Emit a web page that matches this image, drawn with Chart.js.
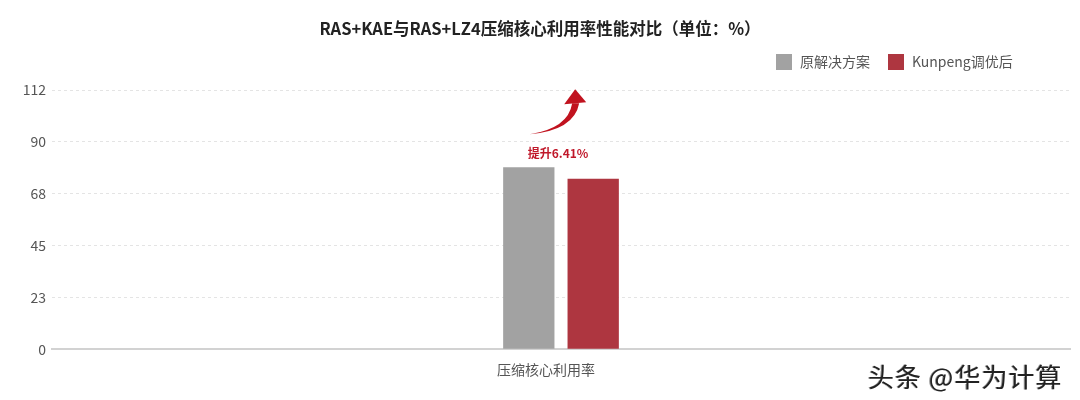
<!DOCTYPE html>
<html>
<head>
<meta charset="utf-8">
<script src="https://cdn.jsdelivr.net/npm/chart.js@4.4.0/dist/chart.umd.min.js"></script>
<style>
  body { margin: 0; background: #fff; font-family: "Noto Sans CJK SC", "Noto Sans", sans-serif; }
  #wrap { position: relative; width: 1080px; height: 400px; }
  #title { position: absolute; top: 16px; left: 0; width: 1080px; text-align: center; font-size: 16.5px; font-weight: bold; color: #222; }
  #chartLegend { position: absolute; top: 51px; left: 776px; font-size: 14px; color: #555; white-space: nowrap; }
  .legend-item { display: inline-block; margin-right: 18px; }
  .legend-item i { display: inline-block; width: 16px; height: 16px; vertical-align: -3px; margin-right: 8px; }
  #mark { position: absolute; left: 868px; top: 357px; font-size: 26px; letter-spacing: 1px; color: #222; text-shadow: 1px 1px 0 #fff, -1px 0 0 #999; }
</style>
</head>
<body>
<div id="wrap">
  <canvas id="reportsChart" width="1080" height="400"></canvas>
  <div id="title">RAS+KAE与RAS+LZ4压缩核心利用率性能对比（单位：%）</div>
  <div id="chartLegend"></div>
  <div id="mark">头条 @华为计算</div>
</div>
<script>
// data
var categories = ["压缩核心利用率"];
var seriesNames = ["原解决方案", "Kunpeng调优后"];
var baselineValues = [78.6];
var tunedValues = [73.6];
var yTickLabels = ["0", "23", "45", "68", "90", "112"];
var yMax = 112;
var noteText = "提升6.41%";

var seriesColors = ["#a2a2a2", "#ae3640"];

// legend, like the repo does it by hand
var legend = document.getElementById("chartLegend");
seriesNames.forEach(function (name, i) {
    var item = document.createElement("span");
    item.className = "legend-item";
    item.innerHTML = '<i style="background:' + seriesColors[i] + '"></i>' + name;
    legend.appendChild(item);
});

// curved arrow + note above the bars
var arrowPlugin = {
    id: "arrowNote",
    afterDatasetsDraw: function (chart) {
        var ctx = chart.ctx;
        var a = chart.getDatasetMeta(0).data[0];
        var b = chart.getDatasetMeta(1).data[0];
        if (!a || !b) return;
        var midX = (a.x + b.x) / 2;
        var topY = a.y;

        ctx.save();
        ctx.fillStyle = "#c0182a";
        ctx.font = "bold 12px 'Noto Sans CJK SC'";
        ctx.textAlign = "center";
        ctx.textBaseline = "middle";
        ctx.fillText(noteText, midX - 3, topY - 14);

        // arrow body
        var tx = a.x + 1, ty = topY - 33;
        var hx = b.x - 17, hy = topY - 64;
        ctx.fillStyle = "#c1131f";
        ctx.beginPath();
        ctx.moveTo(tx, ty);
        ctx.quadraticCurveTo(hx - 2, ty - 4, hx + 3, hy);
        ctx.lineTo(hx - 4, hy);
        ctx.quadraticCurveTo(hx - 8, ty - 6, tx, ty);
        ctx.closePath();
        ctx.fill();
        // arrow head
        ctx.beginPath();
        ctx.moveTo(hx - 12, hy + 1);
        ctx.lineTo(hx - 1, hy - 14);
        ctx.lineTo(hx + 10, hy - 1);
        ctx.closePath();
        ctx.fill();
        ctx.restore();
    }
};

var ctx = document.getElementById("reportsChart").getContext("2d");
window.reportsChart = new Chart(ctx, {
    type: "bar",
    data: {
        labels: categories,
        datasets: [{
            label: seriesNames[0],
            data: baselineValues,
            backgroundColor: seriesColors[0]
        }, {
            label: seriesNames[1],
            data: tunedValues,
            backgroundColor: seriesColors[1]
        }]
    },
    options: {
        responsive: false,
        animation: false,
        categoryPercentage: 0.1265,
        barPercentage: 0.797,
        layout: { padding: { top: 90, right: 10, bottom: 18, left: 0 } },
        plugins: {
            legend: { display: false },
            title: { display: false },
            tooltip: { enabled: false }
        },
        scales: {
            x: {
                grid: { display: false },
                border: { color: "#d2d2d2", width: 2 },
                ticks: {
                    color: "#555",
                    padding: 4,
                    labelOffset: -15,
                    font: { size: 14, family: "Noto Sans CJK SC" }
                }
            },
            y: {
                min: 0,
                max: yMax,
                afterFit: function (s) { s.width = 52; },
                afterBuildTicks: function (s) {
                    s.ticks = yTickLabels.map(function (t, i) {
                        return { value: i * yMax / (yTickLabels.length - 1) };
                    });
                },
                grid: { color: "#e4e4e4", drawTicks: false },
                border: { display: false, dash: [3, 3] },
                ticks: {
                    color: "#555",
                    padding: 6,
                    font: { size: 14, family: "Noto Sans CJK SC" },
                    callback: function (v, i) { return yTickLabels[i]; }
                }
            }
        }
    },
    plugins: [arrowPlugin]
});
</script>
</body>
</html>
